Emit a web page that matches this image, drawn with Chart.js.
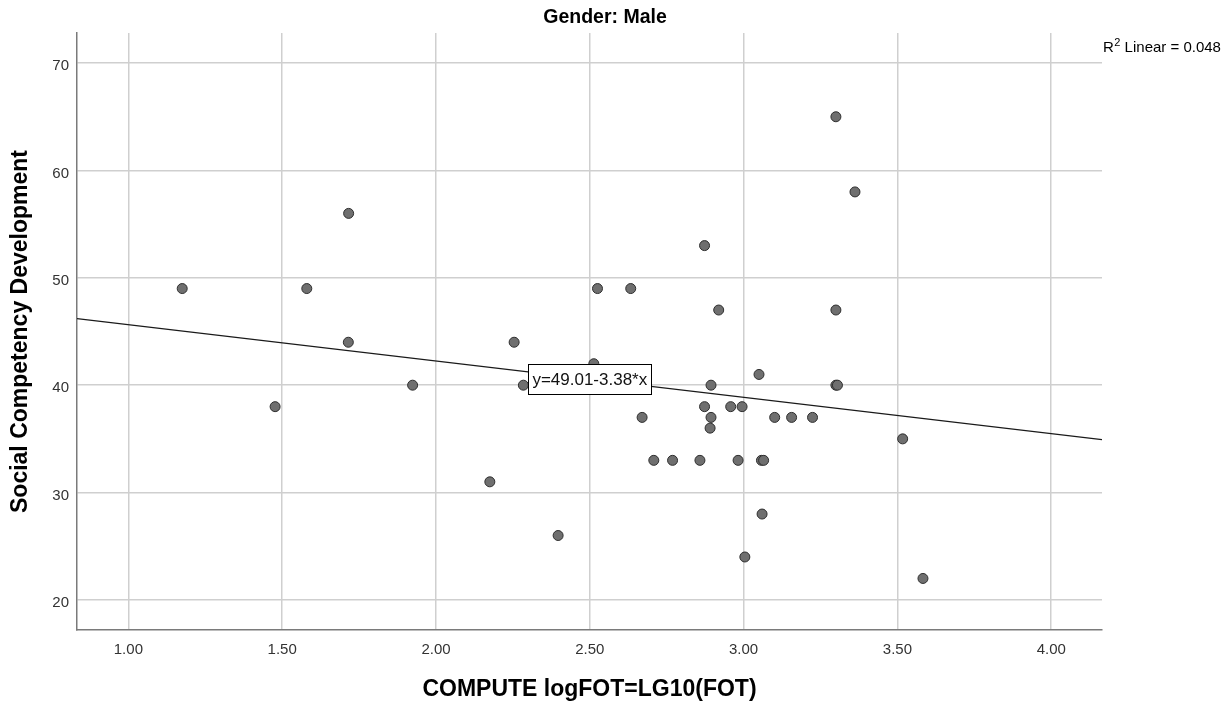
<!DOCTYPE html>
<html lang="en">
<head>
    <meta charset="UTF-8">
    <title>Gender: Male</title>
    <script src="https://cdn.jsdelivr.net/npm/chart.js"></script>
    <style>
        html, body {
            margin: 0;
            padding: 0;
            background: #ffffff;
        }
        canvas {
            display: block;
        }
    </style>
</head>
<body>
<canvas id="scatter" width="1228" height="713"></canvas>
<script>
    // data
    const logFOT = [1.175, 1.477, 1.580, 1.716, 1.715, 1.924, 2.254, 2.284, 2.513, 2.525,
        2.633, 2.873, 2.919, 2.894, 3.050, 2.670, 2.873, 2.894, 2.891, 2.958,
        2.995, 3.101, 3.156, 3.224, 2.708, 2.769, 2.858, 2.982, 3.058, 3.065,
        2.175, 2.397, 3.060, 3.004, 3.300, 3.362, 3.300, 3.300, 3.305, 3.517,
        3.583];
    const socialComp = [49, 38, 49, 56, 44, 40, 44, 40, 42, 49,
        49, 53, 47, 40, 41, 37, 38, 37, 36, 38,
        38, 37, 37, 37, 33, 33, 33, 33, 33, 33,
        31, 26, 28, 24, 65, 58, 47, 40, 40, 35,
        22];

    const xTicks = [1.0, 1.5, 2.0, 2.5, 3.0, 3.5, 4.0];
    const yTicks = [20, 30, 40, 50, 60, 70];
    const xRange = [0.833, 4.165];
    const yRange = [17.2, 72.8];

    // fit line
    const intercept = 49.01;
    const slope = -3.38;
    const rSquared = 0.048;
    const fitLabelX = 2.5;

    const chartTitle = 'Gender: Male';
    const xTitle = 'COMPUTE logFOT=LG10(FOT)';
    const yTitle = 'Social Competency Development';

    const FONT = '"Liberation Sans", Arial, sans-serif';

    const points = logFOT.map((x, i) => ({ x: x, y: socialComp[i] }));
    const fitLine = xRange.map(x => ({ x: x, y: intercept + slope * x }));

    // titles, R2 note and equation box
    const textPlugin = {
        id: 'spssText',
        afterDatasetsDraw(chart) {
            const ctx = chart.ctx;
            const xs = chart.scales.x, ys = chart.scales.y;
            const cx = xs.getPixelForValue(fitLabelX);
            const cy = ys.getPixelForValue(intercept + slope * fitLabelX);
            const txt = 'y=' + intercept.toFixed(2) + '-' + Math.abs(slope).toFixed(2) + '*x';
            ctx.save();
            ctx.font = '17px ' + FONT;
            const w = ctx.measureText(txt).width + 8;
            const h = 30;
            ctx.fillStyle = '#ffffff';
            ctx.fillRect(cx - w / 2, cy - h / 2, w, h);
            ctx.strokeStyle = '#000000';
            ctx.lineWidth = 1;
            ctx.strokeRect(Math.round(cx - w / 2) + 0.5, Math.round(cy - h / 2) + 0.5, Math.round(w), h);
            ctx.fillStyle = '#111111';
            ctx.textAlign = 'center';
            ctx.textBaseline = 'middle';
            ctx.fillText(txt, cx, cy + 1);
            ctx.restore();
        },
        afterDraw(chart) {
            const ctx = chart.ctx;
            const area = chart.chartArea;
            ctx.save();
            ctx.fillStyle = '#000000';
            ctx.textAlign = 'center';
            ctx.textBaseline = 'middle';

            ctx.font = 'bold 19.5px ' + FONT;
            ctx.fillText(chartTitle, 605, 18);

            ctx.font = 'bold 23px ' + FONT;
            ctx.fillText(xTitle, (area.left + area.right) / 2, 690);

            ctx.save();
            ctx.translate(21, (area.top + area.bottom) / 2);
            ctx.rotate(-Math.PI / 2);
            ctx.fillText(yTitle, 0, 0);
            ctx.restore();

            // R2 Linear note
            ctx.textAlign = 'left';
            ctx.textBaseline = 'alphabetic';
            let x = area.right + 1;
            ctx.font = '15px ' + FONT;
            ctx.fillText('R', x, 52);
            x += ctx.measureText('R').width + 0.5;
            ctx.font = '11px ' + FONT;
            ctx.fillText('2', x, 46);
            x += ctx.measureText('2').width;
            ctx.font = '15px ' + FONT;
            ctx.fillText(' Linear = ' + rSquared.toFixed(3), x, 52);
            ctx.restore();
        }
    };

    const ctx = document.getElementById('scatter').getContext('2d');
    new Chart(ctx, {
        type: 'scatter',
        data: {
            datasets: [
                {
                    type: 'line',
                    data: fitLine,
                    borderColor: '#1a1a1a',
                    borderWidth: 1.2,
                    pointRadius: 0,
                    fill: false,
                    order: 0
                },
                {
                    data: points,
                    backgroundColor: '#6f6f6f',
                    borderColor: '#2e2e2e',
                    borderWidth: 1,
                    pointRadius: 5,
                    order: 1
                }
            ]
        },
        options: {
            responsive: false,
            animation: false,
            layout: {
                padding: { left: 0, right: 126, top: 33, bottom: 0 }
            },
            plugins: {
                legend: { display: false },
                tooltip: { enabled: false }
            },
            scales: {
                x: {
                    type: 'linear',
                    min: xRange[0],
                    max: xRange[1],
                    afterBuildTicks: s => { s.ticks = xTicks.map(v => ({ value: v })); },
                    afterFit: s => { s.height = 83; },
                    ticks: {
                        callback: v => Number(v).toFixed(2),
                        font: { family: FONT, size: 15 },
                        color: '#333333',
                        padding: 11,
                        maxRotation: 0
                    },
                    grid: { color: '#cfcfcf', lineWidth: 1.5, drawTicks: false },
                    border: { color: '#7a7a7a', width: 1.5 }
                },
                y: {
                    type: 'linear',
                    min: yRange[0],
                    max: yRange[1],
                    afterBuildTicks: s => { s.ticks = yTicks.map(v => ({ value: v })); },
                    afterFit: s => { s.width = 77; },
                    ticks: {
                        callback: v => String(v),
                        font: { family: FONT, size: 15 },
                        color: '#333333',
                        padding: 8,
                        labelOffset: 3
                    },
                    grid: { color: '#cfcfcf', lineWidth: 1.5, drawTicks: false },
                    border: { color: '#7a7a7a', width: 1.5 }
                }
            }
        },
        plugins: [textPlugin]
    });
</script>
</body>
</html>
